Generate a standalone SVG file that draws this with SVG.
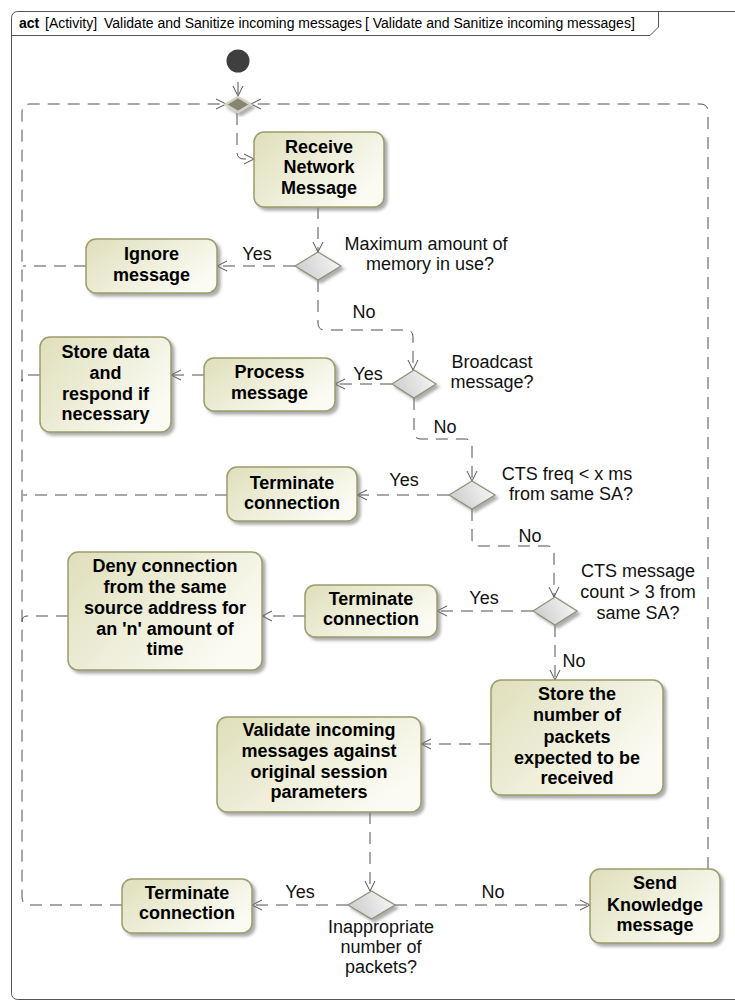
<svg xmlns="http://www.w3.org/2000/svg" width="735" height="1000" viewBox="0 0 735 1000">
  <style>
    .frame { fill: none; stroke: #555; stroke-width: 1; }
    .hdr { font-family: "Liberation Sans", Arial, sans-serif; font-size: 14px; fill: #000; }
    .act { fill: url(#actFill); stroke: #9c9c6c; stroke-width: 1.5; filter: url(#shadow); }
    .dec { fill: url(#decFill); stroke: #8f8f78; stroke-width: 1.2; filter: url(#shadow); }
    .nt { font-family: "Liberation Sans", Arial, sans-serif; font-size: 18px; font-weight: bold; fill: #000; text-anchor: middle; }
    .lbl { font-family: "Liberation Sans", Arial, sans-serif; font-size: 18px; fill: #111; text-anchor: middle; }
    .flow { fill: none; stroke: #505050; stroke-width: 1; stroke-dasharray: 12 8; }
    .arrow { marker-end: url(#open); }
  </style>
  <defs>
    <linearGradient id="actFill" x1="0" y1="0" x2="1" y2="0.6">
      <stop offset="0" stop-color="#dfdfbb"/>
      <stop offset="1" stop-color="#fbfbf4"/>
    </linearGradient>
    <linearGradient id="decFill" x1="0" y1="0.5" x2="1" y2="0.2">
      <stop offset="0" stop-color="#cdcdcd"/>
      <stop offset="1" stop-color="#f8f8f8"/>
    </linearGradient>
    <filter id="shadow" x="-20%" y="-20%" width="150%" height="150%">
      <feDropShadow dx="3" dy="3" stdDeviation="1.5" flood-color="#777" flood-opacity="0.6"/>
    </filter>
    <marker id="open" viewBox="0 0 12 12" refX="11" refY="6" markerWidth="12" markerHeight="12" markerUnits="userSpaceOnUse" orient="auto">
      <path d="M1,1 L11,6 L1,11" fill="none" stroke="#505050" stroke-width="1"/>
    </marker>
  </defs>

  <!-- activity frame and name tab -->
  <g id="frame">
    <rect class="frame" x="11.5" y="11.5" width="740" height="988" rx="6"/>
    <path class="frame" d="M11.5,35.5 H650 L658.5,27 V11.5"/>
    <text class="hdr" x="19" y="28"><tspan font-weight="bold">act</tspan><tspan x="45">[Activity]</tspan><tspan x="104">Validate and Sanitize incoming messages</tspan></text>
    <text class="hdr" x="365" y="28">[ Validate and Sanitize incoming messages]</text>
  </g>

  <!-- control flows -->
  <g id="connectors">
    <path class="flow arrow" d="M238,82 V96" stroke-dasharray="none"/>
    <path class="flow arrow" d="M122,905 H30 Q22,905 22,897 V112 Q22,104 30,104 H226"/>
    <path class="flow arrow" d="M708,869 V112 Q708,104 700,104 H251"/>
    <path class="flow arrow" d="M237,113 V152 Q237,159 244,159 H254"/>
    <path class="flow arrow" d="M318,207 V252"/>
    <path class="flow arrow" d="M295,266 H217"/>
    <path class="flow" d="M86,266 H23"/>
    <path class="flow arrow" d="M318,280 V323 Q318,330 325,330 H406 Q413,330 413,337 V370"/>
    <path class="flow arrow" d="M392,384 H335"/>
    <path class="flow arrow" d="M204,375 H171"/>
    <path class="flow" d="M40,375 H27 Q22,375 22,381"/>
    <path class="flow arrow" d="M414,398 V432 Q414,439 421,439 H465 Q472,439 472,446 V481"/>
    <path class="flow arrow" d="M449,495 H357"/>
    <path class="flow" d="M227,495 H23"/>
    <path class="flow arrow" d="M472,509 V539 Q472,546 479,546 H547 Q554,546 554,553 V597"/>
    <path class="flow arrow" d="M533,611 H437"/>
    <path class="flow arrow" d="M305,616 H262"/>
    <path class="flow" d="M68,616 H27 Q22,616 22,622"/>
    <path class="flow arrow" d="M555,625 V680"/>
    <path class="flow arrow" d="M491,744 H421"/>
    <path class="flow arrow" d="M370,812 V891"/>
    <path class="flow arrow" d="M348,905 H252"/>
    <path class="flow arrow" d="M395,905 H590"/>

    <text class="lbl" x="257" y="260">Yes</text>
    <text class="lbl" x="364" y="318">No</text>
    <text class="lbl" x="368" y="380">Yes</text>
    <text class="lbl" x="445" y="433">No</text>
    <text class="lbl" x="404" y="486">Yes</text>
    <text class="lbl" x="530" y="542">No</text>
    <text class="lbl" x="484" y="604">Yes</text>
    <text class="lbl" x="574" y="667">No</text>
    <text class="lbl" x="300" y="898">Yes</text>
    <text class="lbl" x="493" y="898">No</text>
  </g>

  <!-- start and merge -->
  <g id="initial">
    <circle cx="238" cy="61" r="11.5" fill="#3f3f3f"/>
  </g>
  <g id="merge">
    <polygon points="238,97 250.5,104.5 238,112 225.5,104.5" fill="#858570" stroke="#d2d2c6" stroke-width="2.5" filter="url(#shadow)"/>
  </g>

  <!-- actions -->
  <g id="receive">
    <rect class="act" x="254" y="132" width="130" height="75" rx="10"/>
    <text class="nt" x="319" y="153">Receive</text>
    <text class="nt" x="319" y="173">Network</text>
    <text class="nt" x="319" y="194">Message</text>
  </g>
  <g id="ignore">
    <rect class="act" x="86" y="239" width="131" height="54" rx="10"/>
    <text class="nt" x="151.5" y="260">Ignore</text>
    <text class="nt" x="151.5" y="281">message</text>
  </g>
  <g id="storeData">
    <rect class="act" x="40" y="337" width="131" height="95" rx="10"/>
    <text class="nt" x="105.5" y="358">Store data</text>
    <text class="nt" x="105.5" y="379">and</text>
    <text class="nt" x="105.5" y="400">respond if</text>
    <text class="nt" x="105.5" y="420">necessary</text>
  </g>
  <g id="process">
    <rect class="act" x="204" y="358" width="131" height="53" rx="10"/>
    <text class="nt" x="269.5" y="378">Process</text>
    <text class="nt" x="269.5" y="399">message</text>
  </g>
  <g id="terminate1">
    <rect class="act" x="227" y="467" width="130" height="54" rx="10"/>
    <text class="nt" x="292" y="489">Terminate</text>
    <text class="nt" x="292" y="509">connection</text>
  </g>
  <g id="deny">
    <rect class="act" x="68" y="552" width="194" height="118" rx="10"/>
    <text class="nt" x="165" y="572">Deny connection</text>
    <text class="nt" x="165" y="593">from the same</text>
    <text class="nt" x="165" y="614">source address for</text>
    <text class="nt" x="165" y="635">an 'n' amount of</text>
    <text class="nt" x="165" y="655">time</text>
  </g>
  <g id="terminate2">
    <rect class="act" x="305" y="585" width="132" height="52" rx="10"/>
    <text class="nt" x="371" y="605">Terminate</text>
    <text class="nt" x="371" y="625">connection</text>
  </g>
  <g id="storeCount">
    <rect class="act" x="491" y="680" width="172" height="115" rx="10"/>
    <text class="nt" x="577" y="700">Store the</text>
    <text class="nt" x="577" y="721">number of</text>
    <text class="nt" x="577" y="743">packets</text>
    <text class="nt" x="577" y="764">expected to be</text>
    <text class="nt" x="577" y="784">received</text>
  </g>
  <g id="validate">
    <rect class="act" x="217" y="717" width="204" height="95" rx="10"/>
    <text class="nt" x="319" y="736">Validate incoming</text>
    <text class="nt" x="319" y="757">messages against</text>
    <text class="nt" x="319" y="778">original session</text>
    <text class="nt" x="319" y="798">parameters</text>
  </g>
  <g id="terminate3">
    <rect class="act" x="122" y="879" width="130" height="54" rx="10"/>
    <text class="nt" x="187" y="899">Terminate</text>
    <text class="nt" x="187" y="919">connection</text>
  </g>
  <g id="sendAck">
    <rect class="act" x="590" y="869" width="130" height="74" rx="10"/>
    <text class="nt" x="655" y="889">Send</text>
    <text class="nt" x="655" y="911">Knowledge</text>
    <text class="nt" x="655" y="931">message</text>
  </g>

  <!-- decisions -->
  <g id="decisionMemory">
    <polygon class="dec" points="318,252 341,266 318,280 295,266"/>
    <text class="lbl" x="426" y="250">Maximum amount of</text>
    <text class="lbl" x="430" y="270">memory in use?</text>
  </g>
  <g id="decisionBroadcast">
    <polygon class="dec" points="414,370 436,384 414,398 392,384"/>
    <text class="lbl" x="492" y="368">Broadcast</text>
    <text class="lbl" x="492" y="388">message?</text>
  </g>
  <g id="decisionFreq">
    <polygon class="dec" points="472,481 495,495 472,509 449,495"/>
    <text class="lbl" x="567" y="480">CTS freq &lt; x ms</text>
    <text class="lbl" x="571" y="500">from same SA?</text>
  </g>
  <g id="decisionCount">
    <polygon class="dec" points="555,597 577,611 555,625 533,611"/>
    <text class="lbl" x="638" y="577">CTS message</text>
    <text class="lbl" x="638" y="598">count &gt; 3 from</text>
    <text class="lbl" x="638" y="619">same SA?</text>
  </g>
  <g id="decisionPackets">
    <polygon class="dec" points="371.5,891 395,905 371.5,919 348,905"/>
    <text class="lbl" x="381" y="933">Inappropriate</text>
    <text class="lbl" x="381" y="953">number of</text>
    <text class="lbl" x="381" y="973">packets?</text>
  </g>
</svg>
